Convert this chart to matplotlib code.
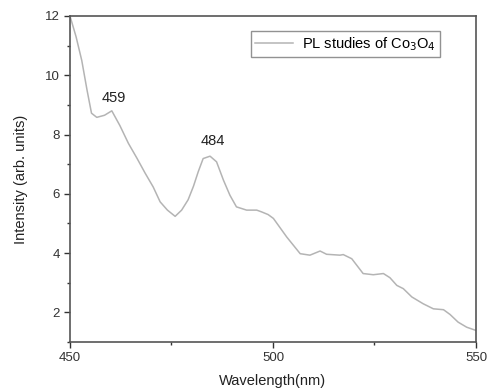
import matplotlib
matplotlib.use("Agg")
import matplotlib.pyplot as plt
from matplotlib.ticker import MultipleLocator

plt.rcParams['font.family'] = ['Liberation Sans', 'DejaVu Sans']

wavelength = [450.0, 451.5, 452.9, 454.2, 455.3, 456.6, 458.5, 460.3, 462.3, 464.4, 466.5, 468.5, 470.5,
              472.2, 474.0, 475.9, 477.5, 479.1, 480.4, 481.6, 482.8, 484.5, 486.1,
              487.8, 489.4, 491.0, 493.5, 496.0, 497.2, 498.8, 500.1, 503.4, 506.7,
              509.1, 511.6, 513.2, 516.5, 517.3, 519.4, 522.2, 524.7, 527.2, 528.8,
              530.5, 532.1, 534.2, 537.0, 539.5, 542.0, 543.6, 545.6, 547.7, 550.0]
intensity = [12.0, 11.3, 10.5, 9.5, 8.72, 8.58, 8.65, 8.80, 8.30, 7.70, 7.20, 6.70, 6.23,
             5.73, 5.45, 5.24, 5.45, 5.80, 6.25, 6.75, 7.19, 7.27, 7.08,
             6.46, 5.95, 5.56, 5.45, 5.45, 5.39, 5.30, 5.17, 4.54, 3.98,
             3.93, 4.07, 3.96, 3.93, 3.95, 3.81, 3.31, 3.27, 3.31, 3.17,
             2.91, 2.80, 2.52, 2.29, 2.12, 2.09, 1.93, 1.67, 1.50, 1.39]

peak_labels = ["459", "484"]
peak_pos = [(460.8, 9.23), (485.2, 7.78)]

fig = plt.figure(figsize=(4.87, 3.89), dpi=100)
ax = fig.add_axes([0.1437, 0.1208, 0.8337, 0.8381])

ax.plot(wavelength, intensity, color='#b4b4b4', lw=1.1,
        label=r'PL studies of Co$_3$O$_4$')

for lab, (px, py) in zip(peak_labels, peak_pos):
    ax.text(px, py, lab, ha='center', va='center', fontsize=10.5, color='#222222')

ax.set_xlim(450, 550)
ax.set_ylim(1, 12)
ax.xaxis.set_major_locator(MultipleLocator(50))
ax.xaxis.set_minor_locator(MultipleLocator(25))
ax.yaxis.set_major_locator(MultipleLocator(2))
ax.yaxis.set_minor_locator(MultipleLocator(1))
ax.tick_params(which='both', direction='out', colors='#333333', labelsize=9.5)
ax.tick_params(which='major', length=4, width=1)
ax.tick_params(which='minor', length=2.5, width=1)
ax.set_yticks([2, 4, 6, 8, 10, 12])
for s in ax.spines.values():
    s.set_color('#555555')
    s.set_linewidth(1.2)

ax.set_xlabel('Wavelength(nm)', fontsize=10.5, color='#222222', labelpad=7)
ax.set_ylabel('Intensity (arb. units)', fontsize=10.5, color='#222222', labelpad=12)

leg = ax.legend(loc='upper right', bbox_to_anchor=(0.911, 0.955), frameon=True,
                fancybox=False, fontsize=10.5, handlelength=2.6, borderpad=0.3,
                handletextpad=0.6, borderaxespad=0)
leg.get_frame().set_edgecolor('#777777')
leg.get_frame().set_linewidth(1.0)

fig.savefig('out.png', dpi=100)
